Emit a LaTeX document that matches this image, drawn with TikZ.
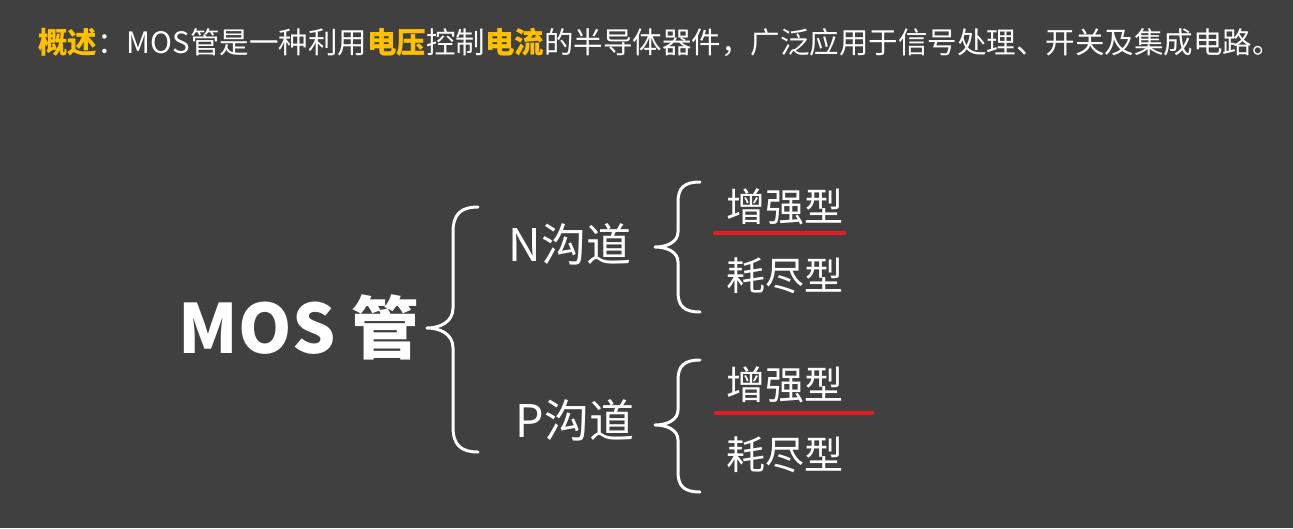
\documentclass[tikz,border=0pt]{standalone}
\usepackage{fontspec}
\setmainfont{Noto Sans CJK SC}
\definecolor{bg}{HTML}{404040}
\definecolor{hl}{HTML}{FFC000}
\definecolor{ul}{HTML}{E81B23}
\begin{document}
\begin{tikzpicture}[x=1pt,y=-1pt,
  lbl/.style={text=white, inner sep=0pt},
  mid/.style={lbl, font=\fontsize{45}{47}\selectfont},
  leaf/.style={lbl, font=\fontsize{39}{41}\selectfont},
  bracestroke/.style={draw=white, line width=3pt, line cap=round, line join=round},
  redline/.style={draw=ul, line width=4.5pt, line cap=round}]
\fill[bg] (0,0) rectangle (1293,528);
\useasboundingbox (0,0) rectangle (1293,528);
\node[lbl, anchor=west, font=\fontsize{29.5}{31}\selectfont] (title) at (38,42)
  {\textcolor{hl}{\bfseries 概述}：MOS管是一种利用\textcolor{hl}{\bfseries 电压}控制\textcolor{hl}{\bfseries 电流}的半导体器件，广泛应用于信号处理、开关及集成电路。};
\node[lbl, font=\fontsize{68}{70}\selectfont\bfseries] (mos) at (299,327) {MOS 管};
\node[mid] (nch) at (570,244) {N沟道};
\node[mid] (pch) at (575,420) {P沟道};
\node[leaf] (ne) at (785,207) {增强型};
\node[leaf] (nd) at (785,276) {耗尽型};
\node[leaf] (pe) at (785,385) {增强型};
\node[leaf] (pd) at (785,455) {耗尽型};
% big brace
\draw[bracestroke] (478,207) .. controls (461,207) and (453,214) .. (453,232) -- (453,308)
  .. controls (453,322) and (440,328) .. (427,328)
  .. controls (440,328) and (453,334) .. (453,348) -- (453,427)
  .. controls (453,445) and (461,452) .. (478,452);
% N brace
\draw[bracestroke] (700,182) .. controls (684,182) and (678,188) .. (678,202) -- (678,232)
  .. controls (678,242) and (667,247) .. (655,247)
  .. controls (667,247) and (678,252) .. (678,262) -- (678,292)
  .. controls (678,306) and (684,312) .. (700,312);
% P brace
\draw[bracestroke] (700,360) .. controls (684,360) and (678,366) .. (678,380) -- (678,410)
  .. controls (678,420) and (667,425) .. (655,425)
  .. controls (667,425) and (678,430) .. (678,440) -- (678,472)
  .. controls (678,486) and (684,492) .. (700,492);
% underlines
\coordinate (ua) at (715,233);
\coordinate (ub) at (844,233);
\coordinate (uc) at (716,413);
\coordinate (ud) at (872,413);
\draw[redline] (ua) -- (ub);
\draw[redline] (uc) -- (ud);
\end{tikzpicture}
\end{document}
